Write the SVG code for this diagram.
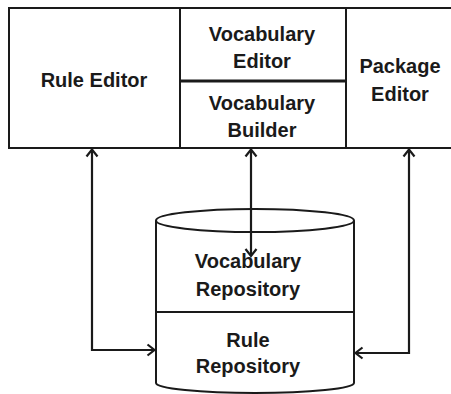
<svg xmlns="http://www.w3.org/2000/svg" width="451" height="394" viewBox="0 0 451 394">
  <style>
    .box { fill: #ffffff; stroke: #1a1a1a; stroke-width: 2; }
    .ln { fill: none; stroke: #1a1a1a; stroke-width: 2; }
    .lbl { font-family: "Liberation Sans", Arial, sans-serif; font-weight: bold; font-size: 20px; fill: #1a1a1a; text-anchor: middle; }
    .conn { fill: none; stroke: #1a1a1a; stroke-width: 2.2; marker-start: url(#arr); marker-end: url(#arr); }
  </style>
  <defs>
    <marker id="arr" markerUnits="userSpaceOnUse" markerWidth="16" markerHeight="16" viewBox="-9 -8 12 16" refX="0" refY="0" orient="auto-start-reverse">
      <path d="M-7,-5.5 L0,0 L-7,5.5" fill="none" stroke="#1a1a1a" stroke-width="2.2"/>
    </marker>
  </defs>
  <rect width="451" height="394" fill="#ffffff"/>

  <g id="rule-editor">
    <rect class="box" x="9" y="8" width="171" height="140"/>
    <text class="lbl" x="94" y="87">Rule Editor</text>
  </g>
  <g id="vocabulary-editor">
    <rect class="box" x="180" y="8" width="166" height="73"/>
    <text class="lbl" x="262" y="41">Vocabulary</text>
    <text class="lbl" x="262" y="68">Editor</text>
  </g>
  <g id="vocabulary-builder">
    <rect class="box" x="180" y="81" width="166" height="67"/>
    <line x1="180" y1="81" x2="346" y2="81" stroke="#1a1a1a" stroke-width="3"/>
    <text class="lbl" x="262" y="110">Vocabulary</text>
    <text class="lbl" x="262" y="137">Builder</text>
  </g>
  <g id="package-editor">
    <rect class="box" x="346" y="8" width="120" height="140"/>
    <text class="lbl" x="400" y="73">Package</text>
    <text class="lbl" x="400" y="101">Editor</text>
  </g>

  <g id="repository">
    <path class="box" d="M156,220.5 L156,383 A99,10 0 0 0 354,383 L354,220.5"/>
    <ellipse class="box" cx="255" cy="220.5" rx="99" ry="11.5"/>
    <line class="ln" x1="156" y1="312" x2="354" y2="312"/>
    <g id="vocabulary-repository">
      <text class="lbl" x="248" y="268">Vocabulary</text>
      <text class="lbl" x="248" y="296">Repository</text>
    </g>
    <g id="rule-repository">
      <text class="lbl" x="248" y="347">Rule</text>
      <text class="lbl" x="248" y="373">Repository</text>
    </g>
  </g>

  <g id="connectors">
    <path class="conn" d="M92,149.5 V350 H154.5"/>
    <path class="conn" d="M251,149.5 V256"/>
    <path class="conn" d="M409,149.5 V353 H355.5"/>
  </g>
</svg>
